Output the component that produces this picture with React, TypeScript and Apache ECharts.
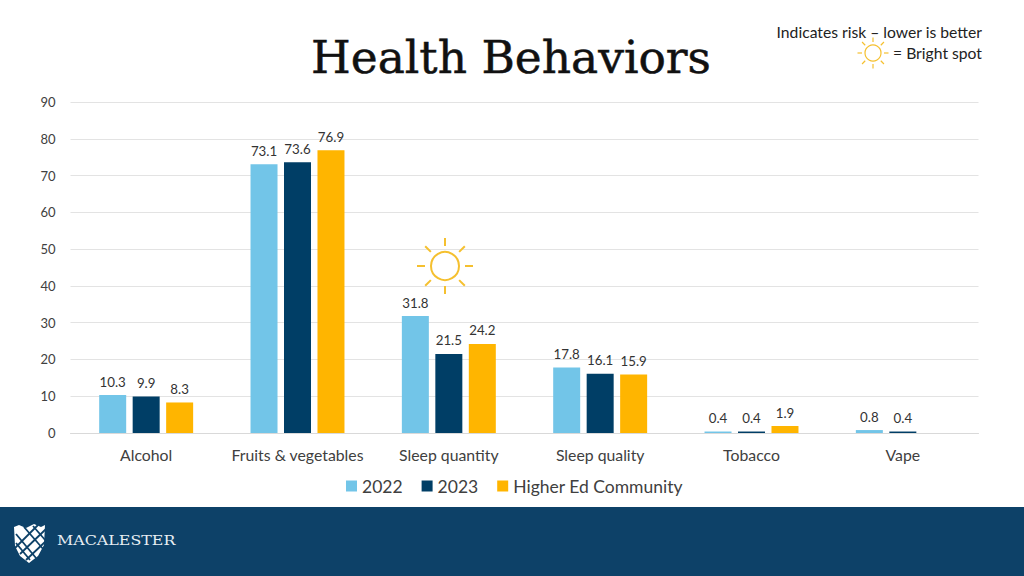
import React, { useEffect, useRef } from "react";
import * as echarts from "echarts";

const categories = ["Alcohol", "Fruits & vegetables", "Sleep quantity", "Sleep quality", "Tobacco", "Vape"];
const values2022 = [10.3, 73.1, 31.8, 17.8, 0.4, 0.8];
const values2023 = [9.9, 73.6, 21.5, 16.1, 0.4, 0.4];
const valuesCommunity: (number | null)[] = [8.3, 76.9, 24.2, 15.9, 1.9, null];
const seriesNames = ["2022", "2023", "Higher Ed Community"];
const colors = ["#72c5e8", "#003e66", "#ffb500"];

const SUN = "#f5c02f";
function sun(cx: number, cy: number, r: number, r1: number, r2: number, w: number, w2: number) {
  const out: any[] = [{ type: "circle", z: 5, shape: { cx, cy, r }, style: { fill: "#fff", stroke: SUN, lineWidth: w } }];
  for (let i = 0; i < 8; i++) {
    const a = (i * Math.PI) / 4;
    out.push({
      type: "line",
      z: 5,
      shape: { x1: cx + r1 * Math.cos(a), y1: cy + r1 * Math.sin(a), x2: cx + r2 * Math.cos(a), y2: cy + r2 * Math.sin(a) },
      style: { stroke: SUN, lineWidth: w2 },
    });
  }
  return out;
}

function logo() {
  const out: any[] = [];
  const shield = [[14, 527], [19, 525], [26, 528], [34, 524], [41, 527], [45, 525], [44, 545], [38, 556], [29, 563], [20, 556], [15, 546]];
  out.push({ type: "polygon", shape: { points: shield }, style: { fill: "#fff" } });
  const cuts = [
    [[16, 534], [36, 558]], [[16, 543], [30, 560]], [[24, 527], [44, 550]], [[33, 526], [46, 541]],
    [[14, 549], [38, 525]], [[20, 554], [46, 529]], [[26, 560], [46, 541]],
  ];
  cuts.forEach(([a, b]) =>
    out.push({ type: "line", shape: { x1: a[0], y1: a[1], x2: b[0], y2: b[1] }, style: { stroke: "#0d4168", lineWidth: 1.8 } })
  );
  return out;
}

export default function App() {
  const ref = useRef<HTMLDivElement>(null);
  useEffect(() => {
    const chart = echarts.init(ref.current!, undefined, { renderer: "svg" });
    const label = {
      show: true,
      position: "top" as const,
      distance: 7,
      fontSize: 13.3,
      color: "#333",
      fontFamily: "Lato",
    };
    const mk = (i: number, data: (number | null)[]) => ({
      name: seriesNames[i],
      type: "bar" as const,
      data,
      barWidth: 27,
      barGap: "24%",
      itemStyle: { color: colors[i] },
      label,
    });
    chart.setOption({
      animation: false,
      textStyle: { fontFamily: "Lato" },
      grid: { left: 70.5, right: 45.5, top: 102, bottom: 143, containLabel: false },
      title: {
        text: "Health Behaviors",
        left: 506,
        top: 29,
        textAlign: "center",
        textStyle: { fontFamily: "DejaVu Serif", fontWeight: "normal", fontSize: 45.5, color: "#111", textBorderColor: "#111", textBorderWidth: 0.5 },
      },
      legend: {
        data: seriesNames,
        left: 341,
        top: 472,
        itemWidth: 11,
        itemHeight: 11,
        itemGap: 19,
        icon: "rect",
        textStyle: { fontSize: 17.5, color: "#404040", fontFamily: "Lato" },
      },
      xAxis: {
        type: "category",
        data: categories,
        axisTick: { show: false },
        axisLine: { lineStyle: { color: "#d9d9d9" } },
        axisLabel: { interval: 0, fontSize: 15.8, color: "#404040", margin: 13, fontFamily: "Lato" },
      },
      yAxis: {
        type: "value",
        min: 0,
        max: 90,
        interval: 10,
        axisLine: { show: false },
        axisTick: { show: false },
        splitLine: { lineStyle: { color: "#e3e3e3" } },
        axisLabel: { fontSize: 13, color: "#404040", margin: 15, fontFamily: "Lato" },
      },
      series: [mk(0, values2022), mk(1, values2023), mk(2, valuesCommunity)],
      graphic: [
        { type: "rect", silent: true, z: -1, shape: { x: 0, y: 507, width: 1024, height: 69 }, style: { fill: "#0d4168" } },
        { type: "text", style: { x: 982, y: 32, text: "Indicates risk – lower is better", align: "right", verticalAlign: "middle", fontSize: 15.7, fontFamily: "Lato", fill: "#222" } },
        { type: "text", style: { x: 982, y: 53, text: "= Bright spot", align: "right", verticalAlign: "middle", fontSize: 15.7, fontFamily: "Lato", fill: "#222" } },
        ...sun(873, 53, 8, 11, 15.5, 1.2, 1.2),
        ...sun(445, 266, 14, 20, 28, 2, 2),
        ...logo(),
        { type: "text", scaleX: 1.22, x: 57, y: 541, style: { x: 0, y: 0, text: "MACALESTER", align: "left", verticalAlign: "middle", fontSize: 13, fontFamily: "DejaVu Serif", fill: "#e8eef3" } },
      ],
    });
    return () => chart.dispose();
  }, []);
  return <div ref={ref} style={{ position: "absolute", left: 0, top: 0, width: 1024, height: 576 }} />;
}
